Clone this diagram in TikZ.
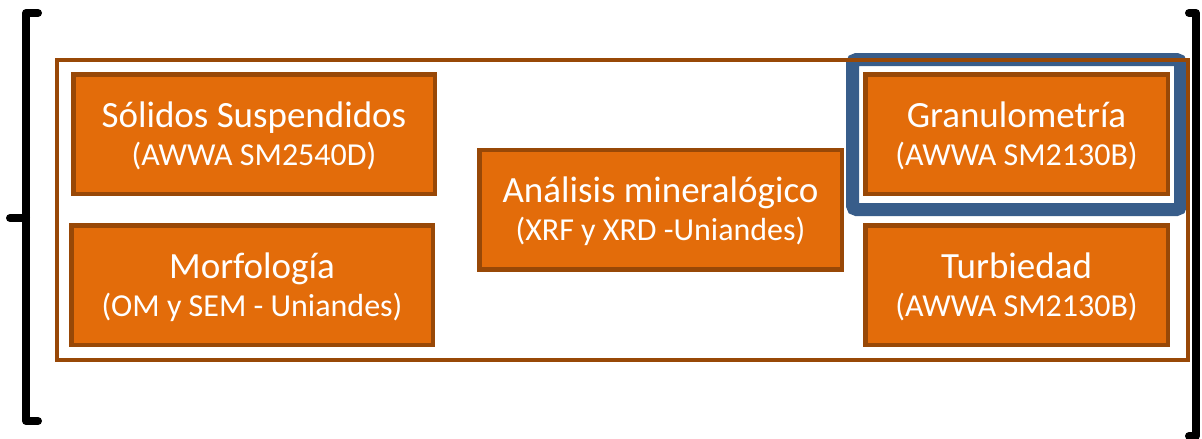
\documentclass[tikz,border=0pt]{standalone}
\usepackage{fontspec}
\setmainfont{Carlito}
\definecolor{boxfill}{HTML}{E36C0A}
\definecolor{boxline}{HTML}{984807}
\definecolor{frameblue}{HTML}{385D8A}
\begin{document}
\begin{tikzpicture}[x=1pt,y=-1pt,
  testbox/.style={draw=boxline,line width=4.5pt,fill=boxfill,text=white,
    align=center,inner sep=0pt,minimum width=#1-4.5pt,minimum height=119.5pt,
    font=\fontsize{32}{38}\selectfont},
  testbox/.default=362,
  bracket/.style={line width=8pt,line cap=round,line join=round},
]
\useasboundingbox (0,0) rectangle (1202,439);
% two-line box label with fixed struts so every box sets its lines alike
\newcommand{\boxtext}[2]{{\fontsize{37}{38}\selectfont\rule{0pt}{34pt}#1}\\\rule[-10pt]{0pt}{10pt}#2}

% highlight frame around the grain-size test
\draw[frameblue,line width=13pt,rounded corners=4pt] (852.5,59.5) rectangle (1180.5,209.5);

% enclosing frame
\draw[boxline,line width=4pt] (57,60) rectangle (1188,360);

% test boxes
\node[testbox=366] (sol) at (254,134) {\boxtext{Sólidos Suspendidos}{(AWWA SM2540D)}};
\node[testbox=366] (mor) at (252,285) {\boxtext{Morfología}{(OM y SEM - Uniandes)}};
\node[testbox=367] (ana) at (660.5,209.5) {\boxtext{Análisis mineralógico}{(XRF y XRD -Uniandes)}};
\node[testbox=307] (gra) at (1016.5,134) {\boxtext{Granulometría}{(AWWA SM2130B)}};
\node[testbox=307] (tur) at (1016.5,285) {\boxtext{Turbiedad}{(AWWA SM2130B)}};

% brackets
\draw[bracket] (38,13) -- (26,13) -- (26,421) -- (38,421);
\draw[bracket] (10,218) -- (26,218);
\draw[bracket] (1189,13) -- (1196,13) -- (1196,436) -- (1189,436);
\end{tikzpicture}
\end{document}
